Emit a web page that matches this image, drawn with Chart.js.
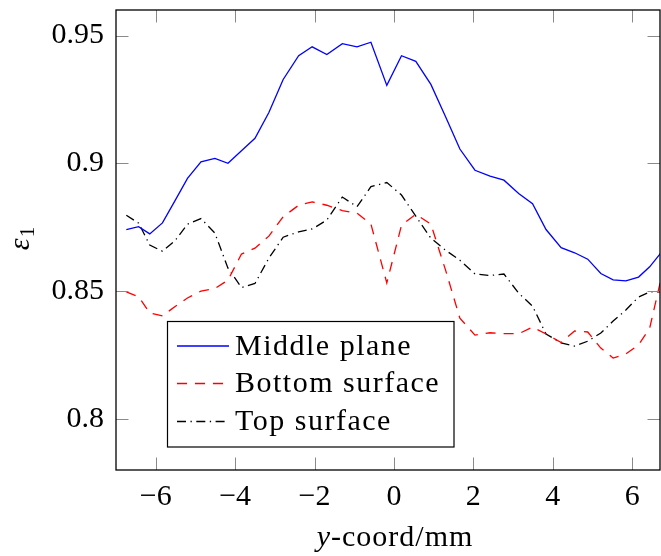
<!DOCTYPE html>
<html><head><meta charset="utf-8">
<script src="https://cdn.jsdelivr.net/npm/chart.js@4.4.1/dist/chart.umd.min.js"></script>
<style>html,body{margin:0;padding:0;background:#fff}#wrap{width:661px;height:556px}</style>
</head><body><div id="wrap"><canvas id="c" width="661" height="556"></canvas></div>
<script>
const xCoords = [-6.74,-6.43,-6.15,-5.83,-5.52,-5.20,-4.86,-4.51,-4.18,-3.84,-3.50,-3.15,-2.79,-2.40,-2.06,-1.69,-1.30,-0.93,-0.58,-0.18,0.19,0.55,0.93,1.30,1.66,2.04,2.42,2.77,3.14,3.49,3.83,4.21,4.55,4.88,5.21,5.52,5.84,6.16,6.44,6.73];
const middlePlane = [0.8741,0.8752,0.8724,0.8767,0.8852,0.8941,0.9006,0.9019,0.9000,0.9049,0.9098,0.9199,0.9328,0.9421,0.9456,0.9426,0.9468,0.9456,0.9474,0.9305,0.9421,0.9399,0.9309,0.9182,0.9056,0.8973,0.8950,0.8934,0.8882,0.8842,0.8741,0.8670,0.8650,0.8625,0.8569,0.8544,0.8540,0.8555,0.8595,0.8651];
const bottomSurface = [0.8497,0.8478,0.8414,0.8403,0.8439,0.8473,0.8500,0.8510,0.8543,0.8645,0.8668,0.8715,0.8791,0.8836,0.8849,0.8836,0.8815,0.8805,0.8762,0.8532,0.8758,0.8801,0.8762,0.8582,0.8394,0.8328,0.8337,0.8334,0.8333,0.8359,0.8332,0.8299,0.8344,0.8340,0.8277,0.8238,0.8254,0.8289,0.8355,0.8551];
const topSurface = [0.8797,0.8766,0.8680,0.8656,0.8696,0.8762,0.8784,0.8727,0.8590,0.8514,0.8530,0.8629,0.8711,0.8732,0.8743,0.8778,0.8868,0.8830,0.8909,0.8925,0.8876,0.8793,0.8707,0.8660,0.8621,0.8567,0.8561,0.8567,0.8492,0.8441,0.8332,0.8297,0.8285,0.8304,0.8336,0.8383,0.8426,0.8477,0.8497,0.8497];
const seriesNames = ['Middle plane','Bottom surface','Top surface'];
const xTickValues = [-6,-4,-2,0,2,4,6];
const yTickValues = [0.8,0.85,0.9,0.95];
const xTitleItalic = 'y';
const xTitleRest = '-coord/mm';
const yTitleMain = 'ε';
const yTitleSub = '1';

const FONT = '"Liberation Serif", "Times New Roman", serif';
const FS = 30;
const toPts = ys => ys.map((y,i)=>({x:xCoords[i], y}));

const overlay = {
  id:'overlay',
  afterDraw(chart){
    const ctx = chart.ctx, a = chart.chartArea;
    const xs = chart.scales.x, ys = chart.scales.y;
    const TL = 12.5;
    ctx.save();
    ctx.strokeStyle = '#8a8a8a'; ctx.lineWidth = 1;
    ctx.beginPath();
    xTickValues.forEach(v=>{
      const p = Math.round(xs.getPixelForValue(v))+0.5;
      ctx.moveTo(p,a.bottom); ctx.lineTo(p,a.bottom-TL);
      ctx.moveTo(p,a.top); ctx.lineTo(p,a.top+TL);
    });
    yTickValues.forEach(v=>{
      const p = Math.round(ys.getPixelForValue(v))+0.5;
      ctx.moveTo(a.left,p); ctx.lineTo(a.left+TL,p);
      ctx.moveTo(a.right,p); ctx.lineTo(a.right-TL,p);
    });
    ctx.stroke();
    ctx.strokeStyle = '#000'; ctx.lineWidth = 1.3;
    ctx.strokeRect(a.left, a.top, a.right-a.left, a.bottom-a.top);
    // legend
    const bx=167.5, by=321.5, bw=286.5, bh=125.5;
    ctx.fillStyle='#fff'; ctx.fillRect(bx,by,bw,bh);
    ctx.strokeStyle='#000'; ctx.lineWidth=1.2; ctx.strokeRect(bx,by,bw,bh);
    const rows=[346,383.5,421.5];
    if ('letterSpacing' in ctx) ctx.letterSpacing = '1.5px';
    chart.data.datasets.forEach((ds,i)=>{
      ctx.strokeStyle = ds.borderColor; ctx.lineWidth = ds.borderWidth;
      ctx.setLineDash(ds.borderDash||[]);
      ctx.beginPath(); ctx.moveTo(177,rows[i]); ctx.lineTo(229,rows[i]); ctx.stroke();
      ctx.setLineDash([]);
      ctx.fillStyle='#000'; ctx.font = FS+'px '+FONT; ctx.textBaseline='middle'; ctx.textAlign='left';
      ctx.fillText(ds.label, 235, rows[i]+1);
    });
    // x title
    if ('letterSpacing' in ctx) ctx.letterSpacing = '1px';
    ctx.textBaseline='alphabetic';
    ctx.font = 'italic '+FS+'px '+FONT;
    const w1 = ctx.measureText(xTitleItalic).width;
    ctx.font = FS+'px '+FONT;
    const w2 = ctx.measureText(xTitleRest).width;
    let sx = 395 - (w1+w2)/2;
    ctx.font = 'italic '+FS+'px '+FONT; ctx.fillText(xTitleItalic, sx, 546);
    ctx.font = FS+'px '+FONT; ctx.fillText(xTitleRest, sx+w1, 546);
    if ('letterSpacing' in ctx) ctx.letterSpacing = '0px';
    // y title (rotated)
    ctx.translate(29, 239); ctx.rotate(-Math.PI/2);
    ctx.font = 'italic '+FS+'px '+FONT;
    const e1 = ctx.measureText(yTitleMain).width;
    ctx.font = '21px '+FONT;
    const e2 = ctx.measureText(yTitleSub).width;
    const s0 = -(e1+e2)/2;
    ctx.font = 'italic '+FS+'px '+FONT; ctx.fillText(yTitleMain, s0, 0);
    ctx.font = '21px '+FONT; ctx.fillText(yTitleSub, s0+e1+1, 5);
    ctx.restore();
  }
};

new Chart(document.getElementById('c'), {
  type:'line',
  data:{datasets:[
    {label:seriesNames[0], data:toPts(middlePlane), borderColor:'#0000ff', borderWidth:1.3, pointRadius:0, tension:0, fill:false},
    {label:seriesNames[1], data:toPts(bottomSurface), borderColor:'#ff0000', borderWidth:1.3, borderDash:[10,8], pointRadius:0, tension:0, fill:false},
    {label:seriesNames[2], data:toPts(topSurface), borderColor:'#000000', borderWidth:1.3, borderDash:[9,4.5,1.3,4.5], pointRadius:0, tension:0, fill:false}
  ]},
  options:{
    responsive:false, animation:false, devicePixelRatio:1,
    layout:{padding:{top:10,right:1,left:0,bottom:0}},
    plugins:{legend:{display:false}, tooltip:{enabled:false}},
    scales:{
      x:{type:'linear', min:-7, max:6.7,
        afterBuildTicks:s=>{s.ticks = xTickValues.map(v=>({value:v}));},
        afterFit:s=>{s.height=86; s.paddingLeft=0; s.paddingRight=0;},
        grid:{display:false, drawTicks:false}, border:{display:false},
        ticks:{padding:9, color:'#000', font:{family:FONT, size:FS}, maxRotation:0,
          callback:v=> v<0 ? '\u2212'+Math.abs(v) : String(v)}},
      y:{type:'linear', min:0.78, max:0.96,
        afterBuildTicks:s=>{s.ticks = yTickValues.map(v=>({value:v}));},
        afterFit:s=>{s.width=116; s.paddingTop=0; s.paddingBottom=0;},
        grid:{display:false, drawTicks:false}, border:{display:false},
        ticks:{padding:12, color:'#000', font:{family:FONT, size:FS},
          callback:v=> String(v)}}
    }
  },
  plugins:[overlay]
});
</script></body></html>
